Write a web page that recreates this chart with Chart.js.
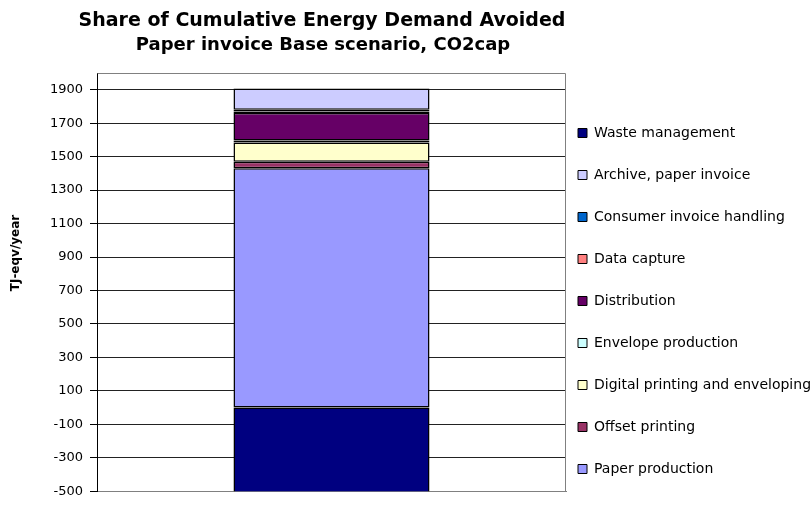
<!DOCTYPE html>
<html>
<head>
<meta charset="utf-8">
<script src="https://cdn.jsdelivr.net/npm/chart.js@4.4.0/dist/chart.umd.min.js"></script>
<style>
  html, body { margin: 0; padding: 0; background: #fff; }
  #wrap { position: relative; width: 812px; height: 506px; }
</style>
</head>
<body>
<div id="wrap"><canvas id="energyChart"></canvas></div>
<script>
// values (TJ-eqv/year)
var categories = [''];
var paperProduction = [1430];
var offsetPrinting = [40];
var digitalPrinting = [114];
var envelopeProduction = [12];
var distribution = [165];
var dataCapture = [9];
var consumerHandling = [10];
var archivePaper = [128];
var wasteManagement = [-560];
var yTicks = [-500, -300, -100, 100, 300, 500, 700, 900, 1100, 1300, 1500, 1700, 1900];

var chartTitle = 'Share of Cumulative Energy Demand Avoided';
var chartSubtitle = 'Paper invoice Base scenario, CO2cap';
var yTitle = 'TJ-eqv/year';

function series(label, data, color) {
  return {
    label: label,
    data: data,
    backgroundColor: color,
    borderColor: '#000',
    borderWidth: 1.5,
    borderSkipped: false,
    barPercentage: 0.418,
    categoryPercentage: 1
  };
}

// titles and the plot frame, drawn on the canvas
var decorations = {
  id: 'decorations',
  afterDraw: function(chart) {
    var ctx = chart.ctx;
    var a = chart.chartArea;
    ctx.save();
    ctx.strokeStyle = '#808080';
    ctx.lineWidth = 1;
    ctx.beginPath();
    ctx.moveTo(Math.round(a.left) + 0.5, Math.round(a.top) + 0.5);
    ctx.lineTo(Math.round(a.right) - 0.5, Math.round(a.top) + 0.5);
    ctx.lineTo(Math.round(a.right) - 0.5, Math.round(a.bottom));
    ctx.stroke();

    ctx.fillStyle = '#000';
    ctx.textAlign = 'center';
    ctx.textBaseline = 'alphabetic';
    ctx.font = 'bold 19px "DejaVu Sans"';
    ctx.fillText(chartTitle, 322, 25.5);
    ctx.font = 'bold 18px "DejaVu Sans"';
    ctx.fillText(chartSubtitle, 323, 50);

    ctx.translate(16, 253);
    ctx.rotate(-Math.PI / 2);
    ctx.textBaseline = 'middle';
    ctx.font = 'bold 12px "DejaVu Sans"';
    ctx.fillText(yTitle, 0, 0);
    ctx.restore();
  }
};

var ctx = document.getElementById('energyChart').getContext('2d');
var myChart = new Chart(ctx, {
  type: 'bar',
  data: {
    labels: categories,
    datasets: [
      series('Paper production', paperProduction, '#9999FF'),
      series('Offset printing', offsetPrinting, '#993366'),
      series('Digital printing and enveloping', digitalPrinting, '#FFFFCC'),
      series('Envelope production', envelopeProduction, '#CCFFFF'),
      series('Distribution', distribution, '#660066'),
      series('Data capture', dataCapture, '#FF8080'),
      series('Consumer invoice handling', consumerHandling, '#0066CC'),
      series('Archive, paper invoice', archivePaper, '#CCCCFF'),
      series('Waste management', wasteManagement, '#000080')
    ]
  },
  options: {
    responsive: true,
    maintainAspectRatio: false,
    animation: false,
    layout: {
      padding: { top: 73, bottom: 2, left: 0, right: 0 }
    },
    scales: {
      x: {
        stacked: true,
        grid: { display: false },
        ticks: { display: false },
        border: { color: '#808080' },
        afterFit: function(scale) { scale.height = 7; }
      },
      y: {
        stacked: true,
        min: -500,
        max: 2000,
        afterBuildTicks: function(scale) {
          scale.ticks = yTicks.map(function(v) { return { value: v }; });
        },
        afterFit: function(scale) { scale.width = 97; },
        grid: { color: '#222', tickColor: '#000', tickLength: 7 },
        border: { color: '#000' },
        ticks: {
          padding: 7,
          color: '#000',
          font: { family: 'DejaVu Sans', size: 13 },
          callback: function(value) { return String(value); }
        }
      }
    },
    plugins: {
      title: { display: false },
      tooltip: { enabled: false },
      legend: {
        position: 'right',
        align: 'end',
        reverse: true,
        maxWidth: 246,
        labels: {
          boxWidth: 9,
          boxHeight: 9,
          padding: 12,
          color: '#000',
          font: { family: 'DejaVu Sans', size: 14, lineHeight: 30 / 14 },
          generateLabels: function(chart) {
            var items = Chart.defaults.plugins.legend.labels.generateLabels(chart);
            items.forEach(function(it) {
              it.text = [it.text];
              it.lineWidth = 1;
              it.strokeStyle = '#000';
            });
            return items;
          }
        }
      }
    }
  },
  plugins: [decorations]
});
</script>
</body>
</html>
